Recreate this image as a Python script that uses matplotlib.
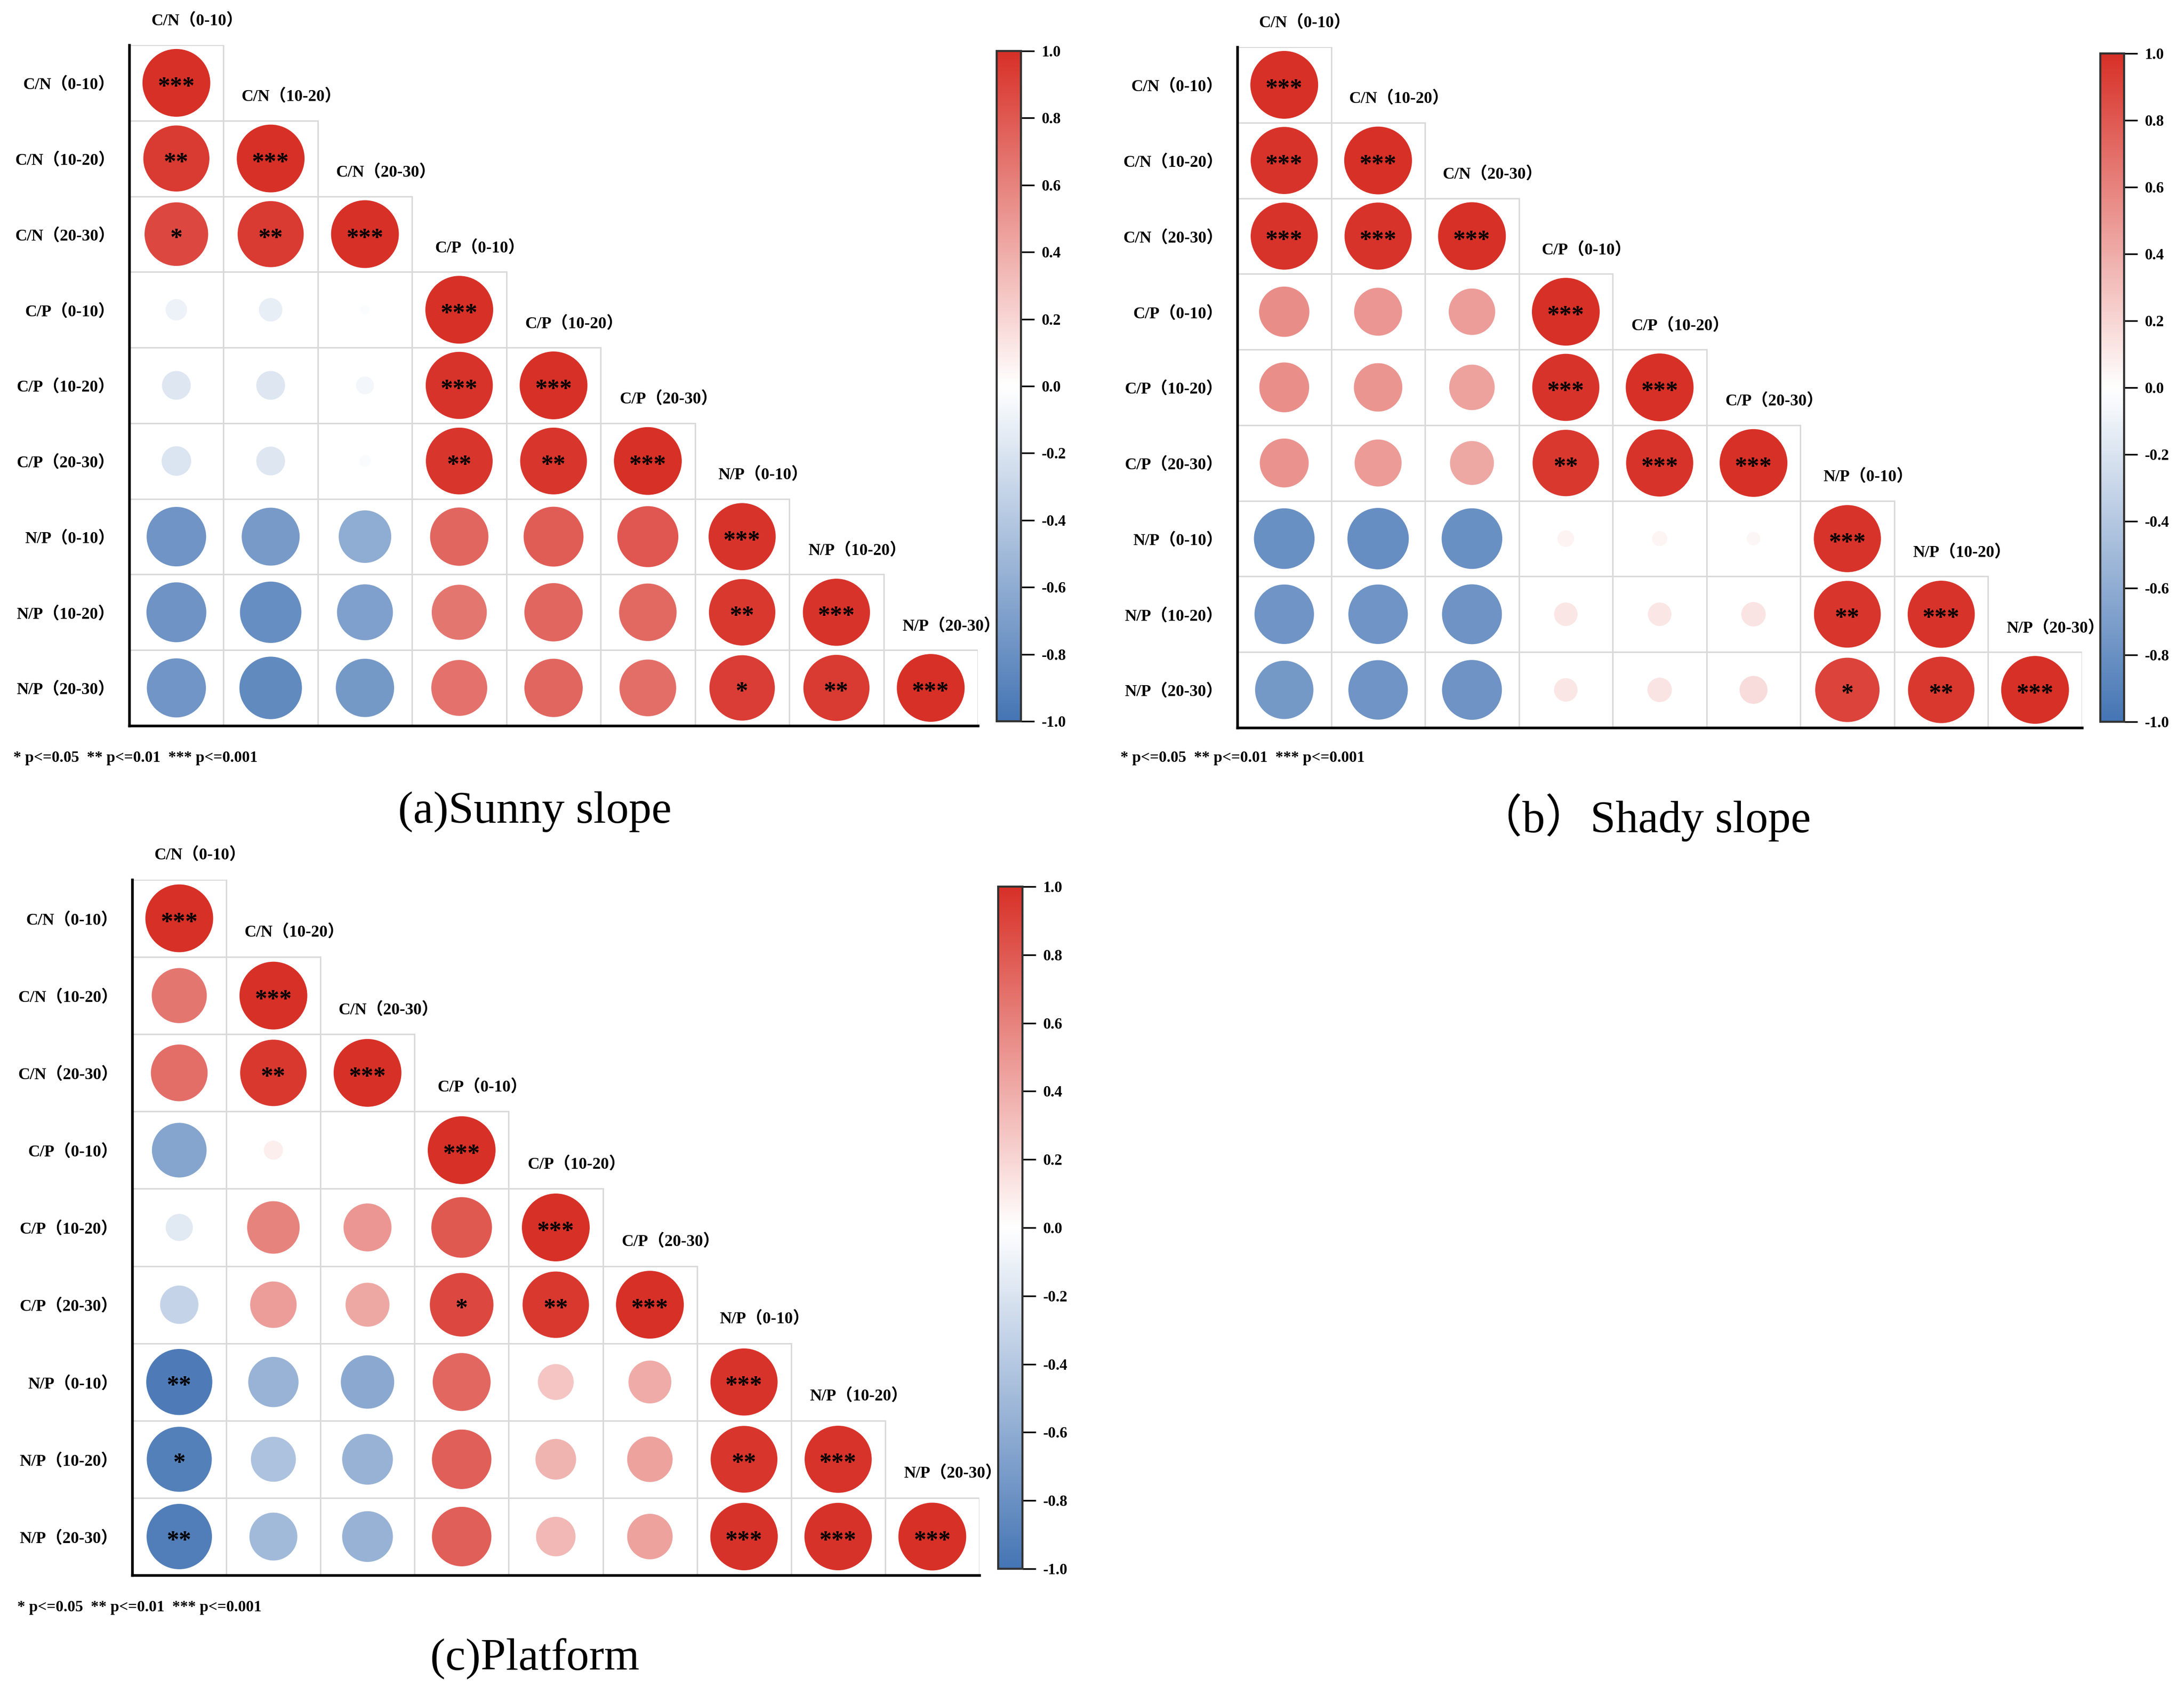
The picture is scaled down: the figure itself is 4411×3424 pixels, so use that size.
import numpy as np
import matplotlib
matplotlib.use("Agg")
import matplotlib.pyplot as plt
from matplotlib.colors import LinearSegmentedColormap
from matplotlib.patches import Rectangle

W, H = 4411, 3424
DPI = 300

labels = ["C/N（0-10）", "C/N（10-20）", "C/N（20-30）",
          "C/P（0-10）", "C/P（10-20）", "C/P（20-30）",
          "N/P（0-10）", "N/P（10-20）", "N/P（20-30）"]

# lower triangle of each correlation matrix, row by row
r_sunny = [
    [1.00],
    [0.95, 1.00],
    [0.88, 0.95, 1.00],
    [-0.10, -0.12, -0.02, 1.00],
    [-0.18, -0.18, -0.07, 0.98, 1.00],
    [-0.19, -0.18, -0.03, 0.97, 0.97, 1.00],
    [-0.77, -0.73, -0.60, 0.74, 0.78, 0.81, 0.98],
    [-0.78, -0.82, -0.68, 0.66, 0.74, 0.72, 0.96, 0.98],
    [-0.76, -0.85, -0.74, 0.68, 0.74, 0.70, 0.93, 0.95, 1.00],
]
sig_sunny = [
    ["***"],
    ["**", "***"],
    ["*", "**", "***"],
    ["", "", "", "***"],
    ["", "", "", "***", "***"],
    ["", "", "", "**", "**", "***"],
    ["", "", "", "", "", "", "***"],
    ["", "", "", "", "", "", "**", "***"],
    ["", "", "", "", "", "", "*", "**", "***"],
]

r_shady = [
    [1.00],
    [0.98, 1.00],
    [0.98, 0.98, 1.00],
    [0.55, 0.50, 0.47, 1.00],
    [0.54, 0.51, 0.45, 0.98, 1.00],
    [0.52, 0.48, 0.42, 0.96, 0.98, 1.00],
    [-0.80, -0.82, -0.80, 0.06, 0.05, 0.04, 0.98],
    [-0.77, -0.77, -0.78, 0.12, 0.12, 0.13, 0.97, 0.98],
    [-0.74, -0.77, -0.78, 0.12, 0.13, 0.17, 0.90, 0.96, 1.00],
]
sig_shady = [
    ["***"],
    ["***", "***"],
    ["***", "***", "***"],
    ["", "", "", "***"],
    ["", "", "", "***", "***"],
    ["", "", "", "**", "***", "***"],
    ["", "", "", "", "", "", "***"],
    ["", "", "", "", "", "", "**", "***"],
    ["", "", "", "", "", "", "*", "**", "***"],
]

r_platform = [
    [1.00],
    [0.66, 1.00],
    [0.70, 0.96, 1.00],
    [-0.65, 0.08, 0.00, 1.00],
    [-0.16, 0.60, 0.50, 0.80, 1.00],
    [-0.32, 0.47, 0.42, 0.88, 0.96, 1.00],
    [-0.95, -0.55, -0.62, 0.73, 0.28, 0.40, 0.98],
    [-0.92, -0.44, -0.56, 0.77, 0.36, 0.45, 0.97, 0.98],
    [-0.93, -0.50, -0.56, 0.77, 0.34, 0.45, 0.99, 0.99, 1.00],
]
sig_platform = [
    ["***"],
    ["", "***"],
    ["", "**", "***"],
    ["", "", "", "***"],
    ["", "", "", "", "***"],
    ["", "", "", "*", "**", "***"],
    ["**", "", "", "", "", "", "***"],
    ["*", "", "", "", "", "", "**", "***"],
    ["**", "", "", "", "", "", "***", "***", "***"],
]

captions = ["(a)Sunny slope", "（b）Shady slope", "(c)Platform"]
footnote = "* p<=0.05  ** p<=0.01  *** p<=0.001"
cbar_ticks = [round(v, 1) for v in np.linspace(-1, 1, 11)]

cmap = LinearSegmentedColormap.from_list("corr", ["#4575b4", "#ffffff", "#d73027"])
serif = ["Liberation Serif", "Noto Sans CJK SC"]

fig = plt.figure(figsize=(W / DPI, H / DPI), dpi=DPI)


def px_axes(x0, y0, x1, y1):
    return fig.add_axes([x0 / W, 1 - y1 / H, (x1 - x0) / W, (y1 - y0) / H])


def corr_panel(box, cbox, r_rows, sig_rows, foot_xy, cap_xy, caption):
    ax = px_axes(*box)
    n = len(labels)
    xs, ys, vals = [], [], []
    for i, row in enumerate(r_rows):
        for j, v in enumerate(row):
            ax.add_patch(Rectangle((j, i), 1, 1, facecolor="none",
                                   edgecolor="#d9d9d9", lw=0.7, zorder=1))
            xs.append(j + 0.5)
            ys.append(i + 0.5)
            vals.append(v)
    vals = np.array(vals)
    sc = ax.scatter(xs, ys, s=np.abs(vals) * 1080, c=vals, cmap=cmap,
                    vmin=-1, vmax=1, edgecolors="none", zorder=2)
    for i, row in enumerate(sig_rows):
        for j, s in enumerate(row):
            if s:
                ax.annotate(s, xy=(j + 0.5, i + 0.5), xytext=(0, -5.2),
                            textcoords="offset points", ha="center",
                            va="baseline", fontsize=12, fontweight="bold",
                            family=serif, color="black", zorder=3)
    for k, lab in enumerate(labels):
        ax.text(k + 0.72, k - 0.32, lab, ha="center", va="center",
                fontsize=8, fontweight="bold", family=serif)

    ax.set_xlim(0, n)
    ax.set_ylim(n, 0)
    ax.set_xticks([])
    ax.set_yticks(np.arange(n) + 0.5)
    ax.set_yticklabels(labels, fontsize=8, fontweight="bold", family=serif)
    ax.tick_params(axis="y", length=0, pad=7)
    for side in ["top", "right"]:
        ax.spines[side].set_visible(False)
    for side in ["left", "bottom"]:
        ax.spines[side].set_linewidth(1.3)
        ax.spines[side].set_color("black")

    cax = px_axes(*cbox)
    cb = fig.colorbar(sc, cax=cax)
    cb.set_ticks(cbar_ticks)
    cb.ax.set_yticklabels([f"{t:.1f}" for t in cbar_ticks], fontsize=7.5,
                          fontweight="bold", family=serif)
    cb.ax.tick_params(length=6.5, width=0.8, pad=3.5)
    cb.outline.set_edgecolor("#333333")
    cb.outline.set_linewidth(1.0)

    fig.text(foot_xy[0] / W, 1 - foot_xy[1] / H, footnote, ha="left",
             va="center", fontsize=7.6, fontweight="bold", family=serif)
    fig.text(cap_xy[0] / W, 1 - cap_xy[1] / H, caption, ha="center",
             va="center", fontsize=22, family=serif)


corr_panel((261, 91, 1975, 1466), (2013, 103, 2062, 1457), r_sunny, sig_sunny,
           (27, 1531), (1080, 1640), captions[0])
corr_panel((2499, 95, 4205, 1470), (4242, 108, 4290, 1458), r_shady, sig_shady,
           (2263, 1532), (3320, 1651), captions[1])
corr_panel((267, 1777, 1978, 3182), (2016, 1791, 2065, 3169), r_platform,
           sig_platform, (35, 3247), (1080, 3350), captions[2])

fig.savefig("out.png", dpi=DPI)
